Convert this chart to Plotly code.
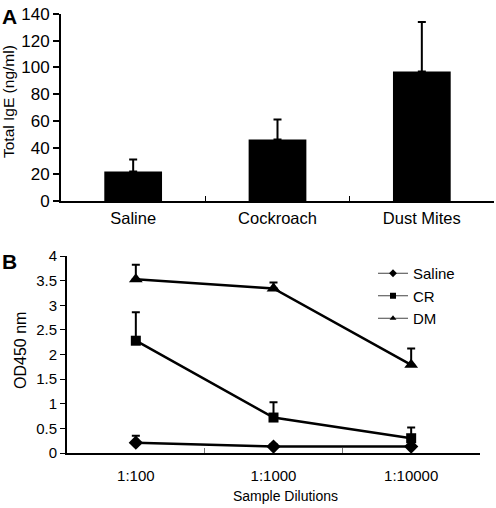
import plotly.graph_objects as go

# Panel A data
groups = ["Saline", "Cockroach", "Dust Mites"]
ige_mean = [22, 46, 97]
ige_err = [9, 15, 37]

# Panel B data
dilutions = ["1:100", "1:1000", "1:10000"]
saline_od = [0.21, 0.13, 0.13]
saline_err = [0.14, 0.05, 0.12]
cr_od = [2.28, 0.72, 0.30]
cr_err = [0.58, 0.31, 0.22]
dm_od = [3.53, 3.34, 1.79]
dm_err = [0.29, 0.12, 0.33]
series_names = ["Saline", "CR", "DM"]
symbols = ["diamond", "square", "triangle-up"]

FONT = "Liberation Sans, Arial, sans-serif"
W, H = 496, 508

fig = go.Figure()

fig.add_trace(go.Bar(
    x=groups, y=ige_mean, width=0.4,
    marker=dict(color="black", line=dict(width=0)),
    error_y=dict(type="data", array=ige_err, symmetric=False, arrayminus=[0]*3,
                 color="black", thickness=2, width=4),
    xaxis="x", yaxis="y", showlegend=False))

for name, vals, errs, sym, sz in zip(series_names, [saline_od, cr_od, dm_od],
                                     [saline_err, cr_err, dm_err], symbols, [11, 10, 12]):
    fig.add_trace(go.Scatter(
        x=dilutions, y=vals, mode="lines+markers",
        line=dict(color="black", width=2.5),
        marker=dict(symbol=sym, size=sz, color="black"),
        error_y=dict(type="data", array=errs, symmetric=False, arrayminus=[0]*3,
                     color="black", thickness=2, width=4),
        xaxis="x2", yaxis="y2", showlegend=False))
    # legend-only entry (thin line, small marker as in the reference)
    fig.add_trace(go.Scatter(
        x=[None], y=[None], mode="lines+markers", name=name,
        line=dict(color="#444", width=1),
        marker=dict(symbol=sym, size=6, color="black"),
        xaxis="x2", yaxis="y2", showlegend=True))

def px_x(p):
    return p / W

def px_y(p):
    return (H - p) / H

fontA = dict(family=FONT, size=17, color="black")
fontAx = dict(family=FONT, size=16.5, color="black")
fontB = dict(family=FONT, size=15, color="black")

fig.update_layout(
    width=W, height=H,
    margin=dict(l=0, r=0, t=0, b=0, autoexpand=False),
    paper_bgcolor="white", plot_bgcolor="white",
    font=dict(family=FONT, size=14, color="black"),
    xaxis=dict(domain=[px_x(61), px_x(494)], anchor="y", type="category",
               range=[-0.5, 2.5], showline=True, linecolor="black", linewidth=2,
               ticks="inside", tickson="boundaries", ticklen=5, tickwidth=1,
               tickcolor="black", showgrid=False, zeroline=False, automargin=False,
               tickfont=fontAx, ticklabelstandoff=1),
    yaxis=dict(domain=[px_y(201), px_y(14)], anchor="x", range=[0, 140],
               tickvals=[0, 20, 40, 60, 80, 100, 120, 140],
               showline=True, linecolor="black", linewidth=2, automargin=False,
               ticks="outside", ticklen=6, tickwidth=2, tickcolor="black",
               showgrid=False, zeroline=False, tickfont=fontA),
    xaxis2=dict(domain=[px_x(67), px_x(480)], anchor="y2", type="category",
                range=[-0.5, 2.5], showline=True, linecolor="black", linewidth=2,
                ticks="inside", tickson="boundaries", ticklen=5, tickwidth=1,
                tickcolor="#777", showgrid=False, zeroline=False, automargin=False,
                tickfont=fontB, ticklabelstandoff=8),
    yaxis2=dict(domain=[px_y(453), px_y(256)], anchor="x2", range=[0, 4],
                tickvals=[0, 0.5, 1, 1.5, 2, 2.5, 3, 3.5, 4],
                ticktext=["0", "0.5", "1", "1.5", "2", "2.5", "3", "3.5", "4"],
                showline=True, linecolor="black", linewidth=2, automargin=False,
                ticks="outside", ticklen=5, tickwidth=1, tickcolor="black",
                showgrid=False, zeroline=False, tickfont=fontB),
    legend=dict(x=px_x(373), y=px_y(257), xanchor="left", yanchor="top",
                bgcolor="rgba(0,0,0,0)", font=dict(family=FONT, size=15, color="black"),
                itemwidth=30, tracegroupgap=0),
    annotations=[
        dict(text="<b>A</b>", x=px_x(0), y=px_y(3), xref="paper", yref="paper",
             xanchor="left", yanchor="top", showarrow=False,
             font=dict(family=FONT, size=21, color="black")),
        dict(text="<b>B</b>", x=px_x(0), y=px_y(248), xref="paper", yref="paper",
             xanchor="left", yanchor="top", showarrow=False,
             font=dict(family=FONT, size=21, color="black")),
        dict(text="Total IgE (ng/ml)", x=px_x(9), y=px_y(102), xref="paper", yref="paper",
             xanchor="center", yanchor="middle", textangle=-90, showarrow=False,
             font=dict(family=FONT, size=15.5, color="black")),
        dict(text="OD450 nm", x=px_x(20), y=px_y(351), xref="paper", yref="paper",
             xanchor="center", yanchor="middle", textangle=-90, showarrow=False,
             font=dict(family=FONT, size=16, color="black")),
        dict(text="Sample Dilutions", x=px_x(285), y=px_y(496), xref="paper", yref="paper",
             xanchor="center", yanchor="middle", showarrow=False,
             font=dict(family=FONT, size=14, color="black")),
    ],
)

fig.write_html("out.html", config={"displayModeBar": False},
               post_script="document.body.style.margin='0';")
